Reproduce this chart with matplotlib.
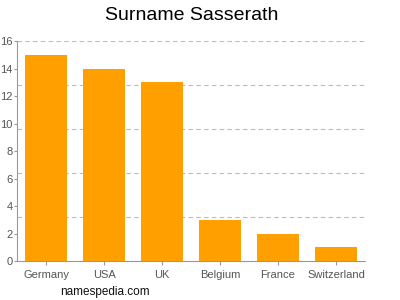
import matplotlib.pyplot as plt
import numpy as np

plt.rcParams['font.family'] = ['Liberation Sans', 'DejaVu Sans']

countries = ["Germany", "USA", "UK", "Belgium", "France", "Switzerland"]
counts = [15, 14, 13, 3, 2, 1]
yticks = [0, 2, 4, 6, 8, 10, 12, 14, 16]
grid_levels = [3.2, 6.4, 9.6, 12.8, 16]

fig = plt.figure(figsize=(4, 3), dpi=100)
ax = fig.add_axes([0.0425, 0.13, 0.87, 0.7333])

x = np.arange(len(countries))
ax.bar(x, counts, width=0.74, color="#ffa000", zorder=2)

for g in grid_levels:
    ax.axhline(g, color="#bbbbbb", linestyle=(0, (4, 3)), linewidth=0.8, zorder=1)

ax.set_xlim(-0.5, len(countries) - 0.5)
ax.set_ylim(0, 16)
ax.set_xticks(x)
ax.set_xticklabels(countries)
ax.set_yticks(yticks)

for side in ["top", "right"]:
    ax.spines[side].set_visible(False)
for side in ["left", "bottom"]:
    ax.spines[side].set_color("#999999")
    ax.spines[side].set_linewidth(0.8)

ax.tick_params(axis="both", colors="#999999", labelcolor="#555555", labelsize=8,
               length=3, width=0.8)
ax.tick_params(axis="y", length=2, pad=1)

fig.text(0.478, 0.95, "Surname Sasserath", fontsize=14, ha="center", va="center")
fig.text(0.15, 0.015, "namespedia.com", fontsize=8.5, color="#111111")

fig.savefig("out.png", dpi=100)
